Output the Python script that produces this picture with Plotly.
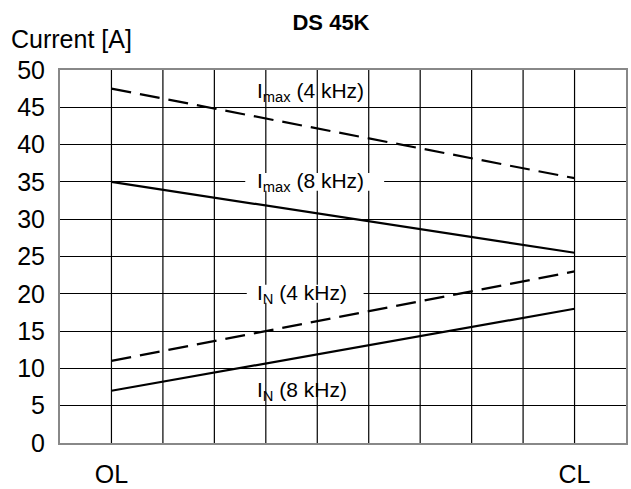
import plotly.graph_objects as go

# Data
x_positions = [1, 10]
x_labels = ["OL", "CL"]
imax_4k = [47.5, 35.5]
imax_8k = [35.0, 25.5]
in_4k = [11.0, 23.0]
in_8k = [7.0, 18.0]
y_ticks = [0, 5, 10, 15, 20, 25, 30, 35, 40, 45, 50]
x_grid = list(range(0, 12))

# series labels
label_texts = ["I<sub>max</sub> (4 kHz)", "I<sub>max</sub> (8 kHz)",
               "I<sub>N</sub> (4 kHz)", "I<sub>N</sub> (8 kHz)"]
label_x = [3.83, 3.83, 3.83, 3.83]
label_y = [47.0, 35.0, 20.0, 7.0]
gap_ranges = [None, (3.6, 6.3), (3.63, 5.9), None]

FONT = "Liberation Sans, Arial, sans-serif"

fig = go.Figure()
series = [(imax_4k, True), (imax_8k, False), (in_4k, True), (in_8k, False)]
for ys, dashed in series:
    fig.add_trace(go.Scatter(
        x=x_positions, y=ys, mode="lines",
        line=dict(color="black", width=2.2, dash="20px,9px" if dashed else "solid"),
        showlegend=False, hoverinfo="skip",
    ))

shapes = []
for gr, ly in zip(gap_ranges, label_y):
    if gr:
        shapes.append(dict(type="rect", xref="x", yref="y", layer="between",
                           x0=gr[0], x1=gr[1], y0=ly - 1.2, y1=ly + 1.2,
                           fillcolor="white", line=dict(width=0)))
for gx in x_grid[1:-1]:
    shapes.append(dict(type="line", xref="x", yref="paper", layer="between",
                       x0=gx, x1=gx, y0=0, y1=1,
                       line=dict(color="black", width=1.2)))

annotations = []
for t, lx, ly in zip(label_texts, label_x, label_y):
    annotations.append(dict(x=lx, y=ly, xref="x", yref="y", text=t,
                            showarrow=False, font=dict(family=FONT, size=21, color="black"),
                            xanchor="left", yanchor="middle", xshift=-2))
annotations.append(dict(x=(9 - 60) / 566, y=1 + 31 / 373, xref="paper", yref="paper",
                        xanchor="left", yanchor="middle", text="Current [A]",
                        showarrow=False, font=dict(family=FONT, size=25, color="black")))

fig.update_layout(
    width=631, height=489,
    margin=dict(l=60, r=5, t=70, b=46, autoexpand=False),
    paper_bgcolor="white", plot_bgcolor="white",
    shapes=shapes,
    annotations=annotations,
    title=dict(text="<b>DS 45K</b>", x=331 / 631, xanchor="center", xref="container",
               y=1 - 22 / 489, yanchor="middle", yref="container",
               font=dict(family=FONT, size=22, color="black")),
    xaxis=dict(range=[0, 11], tickvals=x_positions, ticktext=x_labels, showgrid=False,
               zeroline=False, showline=True, linecolor="#888888", linewidth=2, mirror=True,
               ticks="", tickfont=dict(family=FONT, size=25, color="black"),
               ticklabelstandoff=8, automargin=False),
    yaxis=dict(range=[0, 50], tickvals=y_ticks, showgrid=True, gridcolor="black", gridwidth=1.2,
               zeroline=False, showline=True, linecolor="#888888", linewidth=2, mirror=True,
               ticks="", tickfont=dict(family=FONT, size=25, color="black"),
               ticklabelstandoff=8, automargin=False),
)
fig.write_html("out.html", config={"displayModeBar": False},
               post_script="document.body.style.margin='0px';")
